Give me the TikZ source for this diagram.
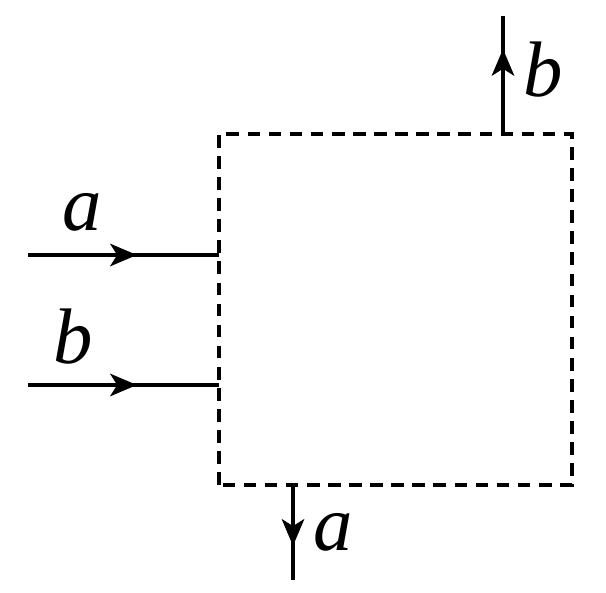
\documentclass[tikz,border=0pt]{standalone}
\usepackage{fontspec}
\setmainfont{Liberation Serif}
\usetikzlibrary{arrows.meta, decorations.markings}

\tikzset{
  wire/.style={line width=2.5pt},
  flowtip/.style={postaction={decorate}, decoration={markings,
      mark=at position #1 with {\arrow{Stealth[length=19pt, width=16pt, inset=5pt]}}}},
  portlabel/.style={font=\fontsize{56}{60}\selectfont\itshape, inner sep=0pt}
}

\begin{document}
\begin{tikzpicture}
  \useasboundingbox (0,0) rectangle (15.15,14.8);
  % dashed control volume
  \draw[wire, dash pattern=on 9pt off 6pt] (5.475,2.675) rectangle (14.3,11.45);
  % ports
  \coordinate (ina) at (5.475,8.425);
  \coordinate (inb) at (5.475,5.175);
  \coordinate (outb) at (12.575,11.45);
  \coordinate (outa) at (7.325,2.675);
  \coordinate (srca) at (0.7,8.425);
  \coordinate (srcb) at (0.7,5.175);
  \coordinate (endb) at (12.575,14.4);
  \coordinate (enda) at (7.325,0.3);
  % inflows
  \draw[wire, flowtip=0.57] (srca) -- (ina);
  \draw[wire, flowtip=0.57] (srcb) -- (inb);
  % outflows
  \draw[wire, flowtip=0.72] (outb) -- (endb);
  \draw[wire, flowtip=0.64] (outa) -- (enda);
  % labels
  \node[portlabel] (la) at (2.05,9.5) {a};
  \node[portlabel] (lb) at (1.825,6.375) {b};
  \node[portlabel] (ltb) at (13.575,13.05) {b};
  \node[portlabel] (lta) at (8.325,1.5) {a};
\end{tikzpicture}
\end{document}
